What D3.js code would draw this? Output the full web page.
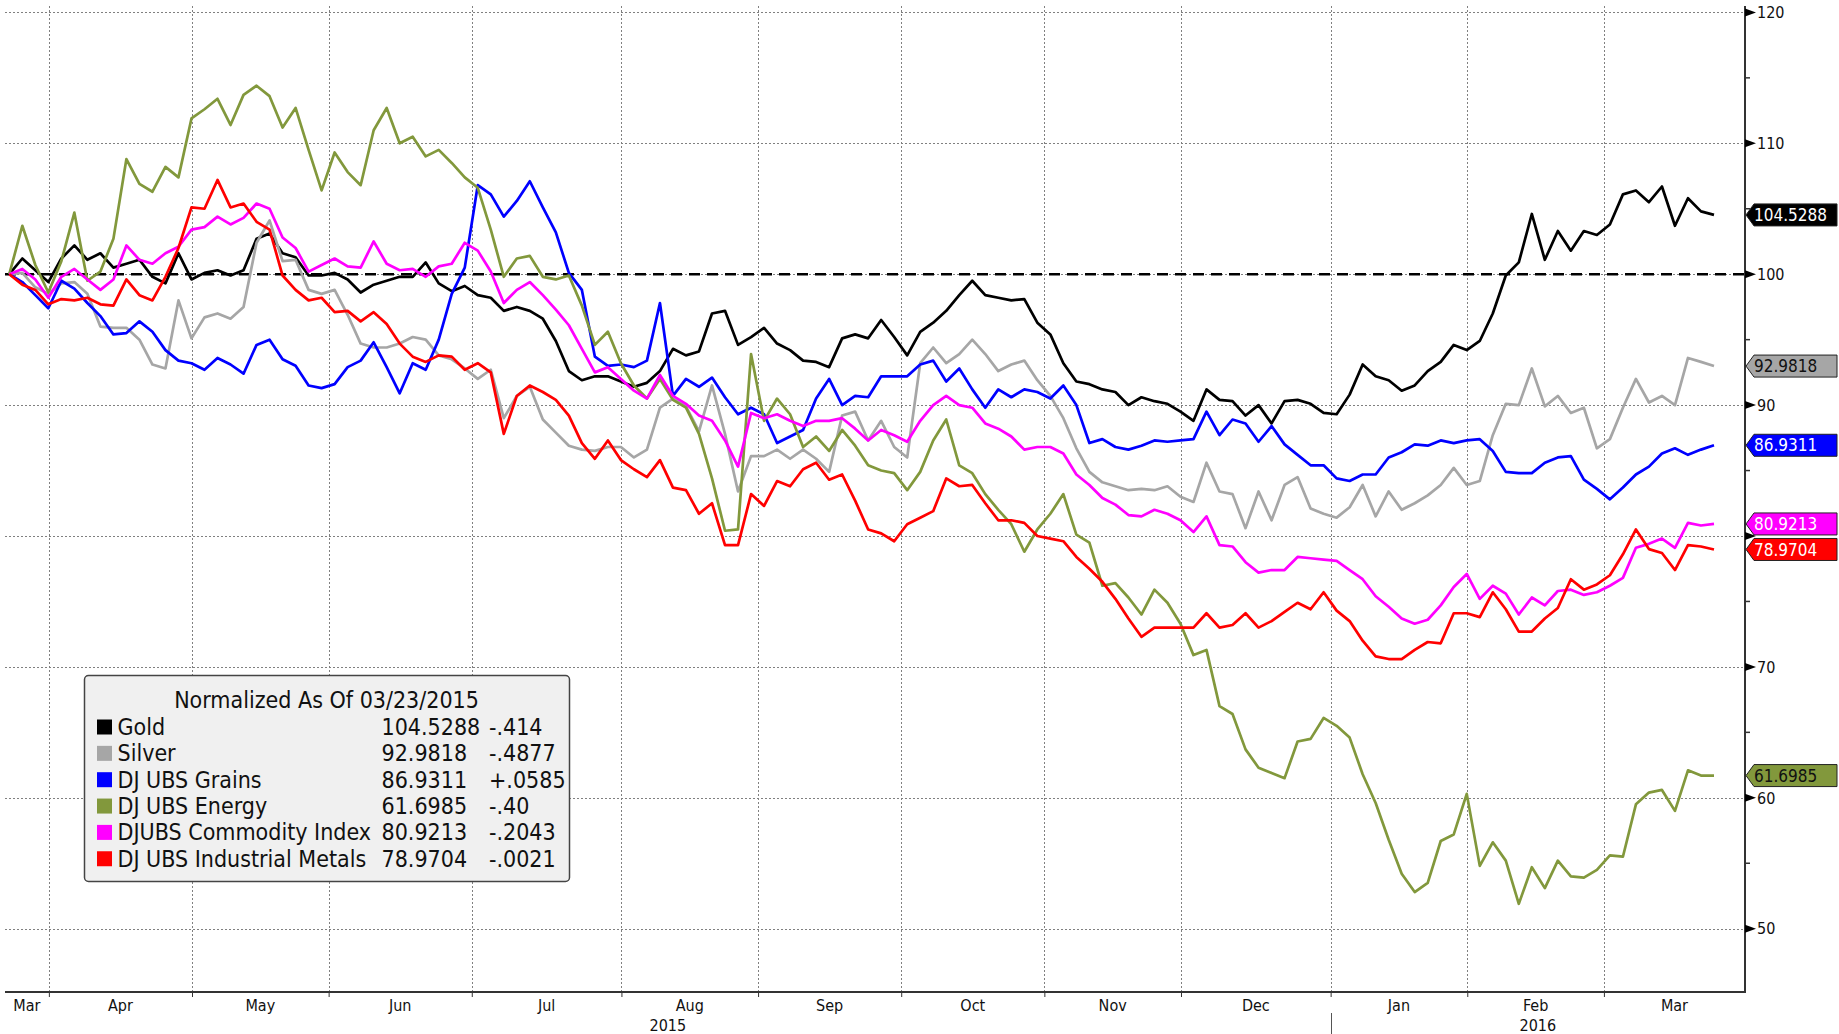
<!DOCTYPE html>
<html>
<head>
<meta charset="utf-8">
<script src="https://cdn.jsdelivr.net/npm/d3@7"></script>
<style>
  body { margin: 0; background: #fff; }
  svg { display: block; font-family: "DejaVu Sans Condensed", "DejaVu Sans", sans-serif; font-stretch: condensed; }
</style>
</head>
<body>
<script>
// one value every 2 trading days, 23 Mar 2015 -> 23 Mar 2016, normalized to 100
var step = 2;

var gold = [100,101.2,100.3,99.4,101.2,102.2,101.1,101.6,100.5,100.8,101.1,99.8,99.3,101.6,99.6,100.1,100.3,99.9,100.3,102.7,
  103.1,101.6,101.3,99.9,99.9,100.1,99.6,98.6,99.2,99.5,99.8,99.8,100.9,99.3,98.7,99.1,98.4,98.2,97.2,97.5,
  97.2,96.6,94.9,92.6,91.9,92.2,92.2,91.8,91.4,91.7,92.6,94.3,93.8,94.1,97,97.2,94.6,95.2,95.9,94.7,
  94.2,93.4,93.3,92.9,95.1,95.4,95.1,96.5,95.2,93.8,95.6,96.3,97.2,98.4,99.5,98.4,98.2,98,98.1,96.3,
  95.4,93.2,91.8,91.6,91.2,91,90,90.6,90.3,90.1,89.5,88.8,91.2,90.4,90.3,89.2,90,88.6,90.3,90.4,
  90.1,89.4,89.3,90.8,93.1,92.2,91.9,91.1,91.5,92.6,93.3,94.6,94.2,94.9,97,99.9,100.9,104.6,101.1,103.3,
  101.8,103.3,103,103.8,106.1,106.4,105.5,106.7,103.7,105.8,104.8,104.5288];

var silver = [100,100.1,99,98.5,99.3,99.4,98.5,96,95.9,95.9,95,93.1,92.8,98,95.1,96.7,97,96.6,97.5,102.4,
  104.1,101,101.1,98.8,98.5,98.8,96.9,94.7,94.4,94.4,94.7,95.2,95,93.8,93.5,92.8,92,92.7,89,90.7,
  91.4,88.9,87.9,86.9,86.6,86.5,86.8,86.8,86,86.6,89.8,90.5,89.9,88,91.5,87.8,83.4,86.1,86.1,86.6,
  85.9,86.6,85.9,84.9,89.2,89.5,87.3,88.8,86.8,86,93.2,94.4,93.2,93.9,95,93.9,92.6,93.1,93.4,91.9,
  90.7,89,86.7,84.9,84.1,83.8,83.5,83.6,83.5,83.8,83,82.6,85.6,83.4,83.2,80.6,83.4,81.2,83.9,84.5,
  82.1,81.7,81.4,82.2,83.9,81.5,83.4,82,82.5,83.1,83.9,85.2,83.9,84.2,87.7,90.1,90,92.8,89.9,90.7,
  89.4,89.8,86.7,87.4,89.8,92,90.2,90.7,90,93.6,93.3,92.9818];

var grains = [100,99.4,98.4,97.4,99.5,98.9,97.8,96.8,95.4,95.5,96.4,95.6,94.2,93.4,93.2,92.7,93.6,93.1,92.4,94.6,
  95,93.5,93,91.5,91.3,91.6,92.9,93.4,94.8,92.9,90.9,93.2,92.7,95,98.5,100.5,106.8,106.1,104.4,105.6,
  107.1,105.1,103.2,100.1,98.8,93.7,93,93.1,92.9,93.4,97.8,90.7,92,91.4,92.1,90.6,89.3,89.8,89.3,87.1,
  87.6,88.1,90.5,92,90,90.7,90.6,92.2,92.2,92.2,93.1,93.4,91.8,92.8,91.2,89.8,91.2,90.6,91.2,91,
  90.5,91.5,90,87.1,87.4,86.8,86.6,86.9,87.3,87.2,87.3,87.4,89.5,87.7,88.9,88.6,87.2,88.4,87,86.2,
  85.4,85.4,84.4,84.2,84.7,84.7,86,86.4,87,86.9,87.3,87.1,87.3,87.4,86.5,84.9,84.8,84.8,85.6,86,
  86.1,84.3,83.6,82.8,83.7,84.7,85.3,86.3,86.7,86.2,86.6,86.9311];

var energy = [100,103.7,100.7,98.6,101,104.7,99.5,100.2,102.7,108.8,106.9,106.3,108.2,107.4,111.9,112.6,113.4,111.4,113.7,114.4,
  113.6,111.2,112.7,109.5,106.4,109.3,107.8,106.8,111,112.7,110,110.5,109,109.5,108.5,107.4,106.6,103.4,99.8,101.2,
  101.4,99.8,99.6,99.9,97.6,94.6,95.6,93.2,91.5,90.5,92,90.4,89.8,87.8,84.4,80.4,80.5,93.9,88.8,90.5,
  89.3,86.8,87.6,86.5,88.1,86.9,85.4,85,84.8,83.5,84.9,87.3,88.9,85.4,84.8,83.2,82,80.9,78.8,80.5,
  81.7,83.2,80.1,79.5,76.2,76.4,75.3,74,75.9,74.9,73.3,70.9,71.3,67,66.4,63.7,62.3,61.9,61.5,64.3,
  64.5,66.1,65.5,64.6,61.8,59.6,56.8,54.2,52.8,53.5,56.7,57.2,60.3,54.8,56.6,55.2,51.9,54.7,53.1,55.2,
  54,53.9,54.5,55.6,55.5,59.5,60.4,60.6,59,62.1,61.7,61.6985];

var commodity = [100,100.4,99.6,98.2,99.8,100.4,99.6,98.8,99.6,102.2,101.1,100.8,101.6,102.1,103.4,103.6,104.4,103.8,104.3,105.4,
  105,102.8,102,100.2,100.7,101.2,100.6,100.5,102.5,100.8,100.3,100.4,99.8,100.6,100.8,102.4,101.8,100.2,97.8,98.8,
  99.4,98.4,97.3,96.1,94.3,92.5,92.9,92,91.1,90.5,92.3,90.7,90.1,89.2,88.8,87.3,85.3,89.4,89,89.3,
  88.8,88.4,88.8,88.8,89,88.2,87.3,88.1,87.7,87.2,88.8,90,90.7,90,89.8,88.6,88.2,87.6,86.6,86.8,
  86.8,86.3,84.7,83.9,82.9,82.4,81.6,81.5,82,81.7,81.2,80.3,81.5,79.3,79.2,78,77.2,77.4,77.4,78.4,
  78.3,78.2,78.1,77.4,76.7,75.4,74.6,73.7,73.3,73.6,74.7,76.1,77.1,75.2,76.2,75.6,74,75.3,74.7,75.8,
  75.9,75.5,75.7,76.2,76.8,79.1,79.4,79.8,79.1,81,80.8,80.9213];

var metals = [100,99.2,98.8,97.7,98.1,98,98.2,97.7,97.6,99.6,98.4,98,99.8,102,105.1,105,107.2,105.1,105.4,104,
  103.4,99.9,98.8,98,98.2,97.1,97.2,96.4,97.1,96.2,94.7,93.7,93.3,93.8,93.7,92.7,93.2,92.5,87.8,90.7,
  91.5,91,90.4,89.2,87.1,85.9,87.3,85.8,85.1,84.5,85.8,83.7,83.5,81.7,82.5,79.3,79.3,83.2,82.3,84.2,
  83.8,85.1,85.6,84.3,84.7,82.7,80.5,80.2,79.6,80.9,81.4,81.9,84.4,83.8,83.9,82.5,81.2,81.2,81,80,
  79.8,79.6,78.4,77.5,76.5,75.2,73.7,72.3,73,73,73,73,74.1,73,73.2,74.1,73,73.5,74.2,74.9,
  74.4,75.7,74.3,73.5,72,70.8,70.6,70.6,71.3,71.9,71.8,74.1,74.1,73.8,75.7,74.4,72.7,72.7,73.7,74.5,
  76.7,75.9,76.3,77,78.6,80.5,79,78.7,77.4,79.3,79.2,78.9704];

var seriesNames = ["Gold", "Silver", "DJ UBS Grains", "DJ UBS Energy", "DJUBS Commodity Index", "DJ UBS Industrial Metals"];
var seriesValues = [gold, silver, grains, energy, commodity, metals];
var lastLabels = ["104.5288", "92.9818", "86.9311", "61.6985", "80.9213", "78.9704"];
var changeLabels = ["-.414", "-.4877", "+.0585", "-.40", "-.2043", "-.0021"];
var seriesColors = ["#000000", "#a6a6a6", "#0000ff", "#82983c", "#ff00ff", "#ff0000"];
var tagTextColors = ["#ffffff", "#111111", "#ffffff", "#111111", "#ffffff", "#ffffff"];
var yTicks = [50, 60, 70, 80, 90, 100, 110, 120];
var yTickLabels = ["50", "60", "70", "", "90", "100", "110", "120"]; // 80 sits under the value tags
var yMinorTicks = [55, 65, 75, 85, 95, 105, 115];
var legendTitle = "Normalized As Of 03/23/2015";

window.onload = function () {
  var width = 1839, height = 1034;
  var left = 5, right = 1745, top = 6, bottom = 992;

  var svg = d3.select("body").append("svg")
    .attr("width", width)
    .attr("height", height);

  // trading days (weekdays) of the period
  var days = d3.utcDay.range(new Date(Date.UTC(2015, 2, 23)), new Date(Date.UTC(2016, 2, 24)))
    .filter(function (d) { return d.getUTCDay() % 6 !== 0; });

  var x = d3.scaleLinear().domain([0, days.length - 1]).range([9.3, 1714]);
  var y = d3.scaleLinear().domain([50, 120]).range([928.7, 12.4]);

  var months = d3.utcMonth.range(new Date(Date.UTC(2015, 3, 1)), new Date(Date.UTC(2016, 2, 2)));
  var monthPos = months.map(function (m) {
    var idx = days.findIndex(function (d) { return d >= m; });
    return x(idx - 0.92);
  });

  // grid
  var grid = svg.append("g").attr("stroke", "#808080").attr("stroke-width", 1).attr("stroke-dasharray", "2,2");
  grid.selectAll("line.h").data(yTicks).enter().append("line")
    .attr("x1", left).attr("x2", right)
    .attr("y1", function (d) { return Math.round(y(d)) + 0.5; })
    .attr("y2", function (d) { return Math.round(y(d)) + 0.5; });
  grid.selectAll("line.v").data(monthPos).enter().append("line")
    .attr("x1", function (d) { return Math.round(d) + 0.5; })
    .attr("x2", function (d) { return Math.round(d) + 0.5; })
    .attr("y1", top).attr("y2", bottom);

  // 100 reference
  svg.append("line")
    .attr("x1", left).attr("x2", right)
    .attr("y1", y(100)).attr("y2", y(100))
    .attr("stroke", "#000").attr("stroke-width", 2.5).attr("stroke-dasharray", "11,7");

  var line = d3.line()
    .x(function (d, i) { return x(i * step); })
    .y(function (d) { return y(d); });

  svg.append("g").selectAll("path").data(seriesValues).enter().append("path")
    .attr("d", line)
    .attr("fill", "none")
    .attr("stroke", function (d, i) { return seriesColors[i]; })
    .attr("stroke-width", 2.7)
    .attr("stroke-linejoin", "round");

  // bottom axis
  var xAxis = d3.axisBottom(x)
    .tickValues(monthPos.map(function (p) { return x.invert(p); }))
    .tickFormat("")
    .tickSizeInner(5).tickSizeOuter(0);
  var gx = svg.append("g").attr("transform", "translate(0," + bottom + ")").call(xAxis);
  gx.select(".domain").remove();
  gx.selectAll(".tick line").attr("stroke", "#333");
  svg.append("line").attr("x1", left).attr("x2", right + 1).attr("y1", bottom).attr("y2", bottom)
    .attr("stroke", "#333").attr("stroke-width", 2);

  var bounds = [left].concat(monthPos).concat([right]);
  var monthLabels = [new Date(Date.UTC(2015, 2, 1))].concat(months);
  svg.append("g").selectAll("text").data(monthLabels).enter().append("text")
    .attr("x", function (d, i) { return (bounds[i] + bounds[i + 1]) / 2; })
    .attr("y", 1011)
    .attr("text-anchor", "middle")
    .attr("font-size", 16)
    .attr("fill", "#111")
    .text(function (d) { return d3.utcFormat("%b")(d); });

  var janPos = monthPos[9];
  var years = [{ label: "2015", a: left, b: janPos }, { label: "2016", a: janPos, b: right }];
  svg.append("g").selectAll("text").data(years).enter().append("text")
    .attr("x", function (d) { return (d.a + d.b) / 2; })
    .attr("y", 1031)
    .attr("text-anchor", "middle")
    .attr("font-size", 16)
    .attr("fill", "#111")
    .text(function (d) { return d.label; });
  svg.append("line").attr("x1", Math.round(janPos) + 0.5).attr("x2", Math.round(janPos) + 0.5)
    .attr("y1", 1013).attr("y2", 1034).attr("stroke", "#555").attr("stroke-width", 1);

  // right axis
  svg.append("line").attr("x1", right).attr("x2", right).attr("y1", top).attr("y2", bottom + 1)
    .attr("stroke", "#333").attr("stroke-width", 2);
  var ya = svg.append("g");
  ya.selectAll("path").data(yTicks).enter().append("path")
    .attr("d", function (d) { var yy = y(d); return "M" + right + "," + (yy - 4) + "L" + (right + 11) + "," + yy + "L" + right + "," + (yy + 4) + "Z"; })
    .attr("fill", "#000");
  ya.selectAll("line").data(yMinorTicks).enter().append("line")
    .attr("x1", right).attr("x2", right + 5)
    .attr("y1", function (d) { return y(d); }).attr("y2", function (d) { return y(d); })
    .attr("stroke", "#333").attr("stroke-width", 1.5);
  ya.selectAll("text").data(yTicks.filter(function (d, i) { return yTickLabels[i] !== ""; })).enter().append("text")
    .attr("x", right + 12)
    .attr("y", function (d) { return y(d); })
    .attr("dy", "0.36em")
    .attr("font-size", 16)
    .attr("fill", "#111")
    .text(function (d) { return yTickLabels[yTicks.indexOf(d)]; });

  // last value tags
  var tags = svg.append("g").selectAll("g").data(seriesValues).enter().append("g")
    .attr("transform", function (d) { return "translate(0," + y(d[d.length - 1]) + ")"; });
  tags.append("path")
    .attr("d", "M" + (right + 1) + ",0L" + (right + 9) + ",-11L1837,-11L1837,11L" + (right + 9) + ",11Z")
    .attr("fill", function (d, i) { return seriesColors[i]; })
    .attr("stroke", "#222").attr("stroke-width", 1);
  tags.append("text")
    .attr("x", right + 9)
    .attr("dy", "0.36em")
    .attr("font-size", 17)
    .attr("fill", function (d, i) { return tagTextColors[i]; })
    .text(function (d, i) { return lastLabels[i]; });

  // legend
  var lg = svg.append("g");
  lg.append("rect")
    .attr("x", 84.5).attr("y", 675.5).attr("width", 485).attr("height", 206).attr("rx", 4)
    .attr("fill", "#f0f0f0").attr("stroke", "#444").attr("stroke-width", 1.5);
  lg.append("text")
    .attr("x", 326.5).attr("y", 708)
    .attr("text-anchor", "middle").attr("font-size", 23).attr("fill", "#111")
    .text(legendTitle);
  var rows = lg.selectAll("g.row").data(seriesNames).enter().append("g")
    .attr("transform", function (d, i) { return "translate(0," + (735 + i * 26.35) + ")"; });
  rows.append("rect")
    .attr("x", 97).attr("y", -15.5).attr("width", 15).attr("height", 15)
    .attr("fill", function (d, i) { return seriesColors[i]; });
  rows.append("text").attr("x", 117.5).attr("font-size", 23).attr("fill", "#111").text(function (d) { return d; });
  rows.append("text").attr("x", 381.5).attr("font-size", 23).attr("fill", "#111").text(function (d, i) { return lastLabels[i]; });
  rows.append("text").attr("x", 489).attr("font-size", 23).attr("fill", "#111").text(function (d, i) { return changeLabels[i]; });
};
</script>
</body>
</html>
